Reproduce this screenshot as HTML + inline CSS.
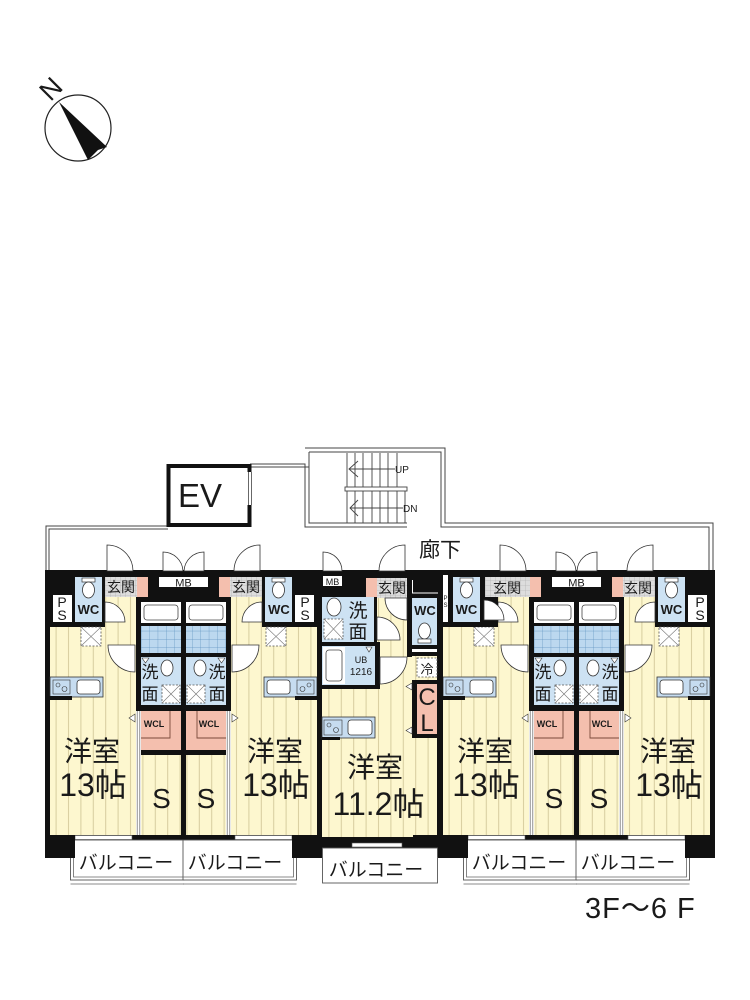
<!DOCTYPE html>
<html><head><meta charset="utf-8"><style>
html,body{margin:0;padding:0;background:#fff;}
svg{display:block;}
text{font-family:"Liberation Sans","Noto Sans CJK JP",sans-serif;fill:#1a1a1a;}
</style></head><body>
<svg width="750" height="1000" viewBox="0 0 750 1000" xmlns="http://www.w3.org/2000/svg">
<defs>
<pattern id="st" x="0" y="0" width="12.4" height="20" patternUnits="userSpaceOnUse">
<rect width="12.4" height="20" fill="#fdf7cf"/><rect x="6" width="1" height="20" fill="#d6cc9e"/></pattern>
<pattern id="gr" x="0" y="0" width="5" height="5" patternUnits="userSpaceOnUse">
<rect width="5" height="5" fill="#dddddd"/><path d="M0 0H5M0 0V5" stroke="#a8a8a8" stroke-width="0.6"/></pattern>
<pattern id="tile" x="0" y="0" width="8.3" height="8.3" patternUnits="userSpaceOnUse">
<rect width="8.3" height="8.3" fill="#bcd8ef"/><path d="M0 0H8.3M0 0V8.3" stroke="#5f93c0" stroke-width="0.7"/></pattern>

<g id="uA">
 <rect x="50" y="622" width="86" height="213" fill="url(#st)"/>
 <rect x="105" y="597" width="31" height="30" fill="url(#st)"/>
 <rect x="45" y="570" width="60" height="57" fill="#111"/>
 <rect x="45" y="570" width="5" height="288" fill="#111"/>
 <rect x="45" y="570" width="139" height="7" fill="#111"/>
 <rect x="53" y="595" width="19" height="27" fill="#fff"/>
 <rect x="75" y="577" width="27" height="45" fill="#cde2f3"/>
 <rect x="82" y="578" width="13" height="4" fill="#fff" stroke="#333" stroke-width="0.7"/>
 <ellipse cx="88.5" cy="590" rx="6" ry="8" fill="#fff" stroke="#333" stroke-width="0.8"/>
 <rect x="105" y="577" width="32" height="20" fill="url(#gr)"/>
 <rect x="137" y="577" width="11" height="20" fill="#f4bfae"/>
 <rect x="148" y="570" width="36" height="32" fill="#111"/>
 <rect x="136" y="597" width="48" height="243" fill="#111"/>
 <rect x="159" y="577" width="25" height="10" fill="#fff"/>
 <!-- bath -->
 <rect x="141" y="602" width="40" height="21" fill="#fff"/>
 <rect x="144" y="605" width="34" height="15" rx="3" fill="#fff" stroke="#444" stroke-width="0.8"/>
 <rect x="141" y="626" width="40" height="27" fill="url(#tile)"/>
 <!-- wash -->
 <rect x="141" y="657" width="40" height="48" fill="#cde2f3"/>
 <ellipse cx="167" cy="668" rx="6" ry="8" fill="#fff" stroke="#333" stroke-width="0.8"/>
 <rect x="162" y="685" width="18" height="18" fill="#fff" stroke="#555" stroke-width="0.8" stroke-dasharray="2 1.5"/>
 <path d="M162 685L180 703M180 685L162 703" stroke="#777" stroke-width="0.6"/>
 <polygon points="142,658 149,658 145.5,663" fill="#fff" stroke="#333" stroke-width="0.6"/>
 <!-- WCL -->
 <rect x="141" y="711" width="40" height="39" fill="#f4bfae"/>
 <path d="M141 738H170V711" stroke="#7a4a3a" stroke-width="0.9" fill="none"/>
 <!-- S -->
 <rect x="141" y="755" width="40" height="80" fill="url(#st)"/>
 <rect x="136" y="711" width="5" height="124" fill="#fff"/>
 <path d="M137.2 711V835M139.8 711V835" stroke="#666" stroke-width="0.7"/>
 <polygon points="135,714 135,722 129,718" fill="#fff" stroke="#333" stroke-width="0.6"/>
 <!-- counter -->
 <rect x="50" y="677" width="53" height="20" fill="#c6dcf0" stroke="#333" stroke-width="0.8"/>
 <rect x="53" y="680" width="17" height="14" fill="#c6dcf0" stroke="#333" stroke-width="0.6"/>
 <circle cx="58" cy="685" r="2" fill="none" stroke="#333" stroke-width="0.6"/>
 <circle cx="64.5" cy="689" r="2.5" fill="none" stroke="#333" stroke-width="0.6"/>
 <rect x="77" y="680" width="23" height="14" rx="3" fill="#fff" stroke="#333" stroke-width="0.8"/>
 <rect x="45" y="696" width="27" height="4" fill="#111"/>
 <!-- X box -->
 <rect x="81" y="627" width="20" height="19" fill="#fff" stroke="#555" stroke-width="0.8" stroke-dasharray="2 1.5"/>
 <path d="M81 627L101 646M101 627L81 646" stroke="#777" stroke-width="0.6"/>
 <!-- doors -->
 <path d="M105 602A20 20 0 0 1 125 622L105 622Z" fill="#fff" stroke="#333" stroke-width="0.8"/>
 <path d="M135 645L108 645A27 27 0 0 0 135 672Z" fill="#fff" stroke="#333" stroke-width="0.8"/>
 <path d="M107 571L107 545A26 26 0 0 1 133 571Z" fill="#fff" stroke="#333" stroke-width="0.8"/>
 <path d="M163 571L163 552A20 20 0 0 1 183 571Z" fill="#fff" stroke="#333" stroke-width="0.8"/>
 <!-- bottom -->
 <rect x="45" y="835" width="139" height="5" fill="#111"/>
 <rect x="75" y="835.5" width="57" height="4" fill="#fff" stroke="#555" stroke-width="0.6"/>
 <rect x="70.5" y="840" width="113.5" height="40" fill="#fff" stroke="#555" stroke-width="0.9"/>
 <path d="M73.5 858V877H184M70.5 884H184" stroke="#666" stroke-width="0.8" fill="none"/>
 <rect x="45" y="835" width="30" height="23" fill="#111"/>
</g>
</defs>

<!-- north arrow -->
<circle cx="78" cy="128" r="33" fill="none" stroke="#222" stroke-width="1.2"/>
<polygon points="59,102 107,147 98,150 88,160" fill="#111"/>
<text x="51" y="98" font-size="27" text-anchor="middle" transform="rotate(-45 51 89)">N</text>

<!-- corridor outline -->
<g fill="none" stroke="#444" stroke-width="1">
<path d="M46 570V526H168"/>
<path d="M49 570V529H168"/>
<path d="M250 464H305V527H407"/>
<path d="M250 467H309M309 452V523H407"/>
<path d="M305 448H445V523H713V570"/>
<path d="M309 452H441V527H709V570"/>
</g>
<!-- EV -->
<rect x="168.5" y="466" width="81" height="59" fill="#fff" stroke="#111" stroke-width="4"/>
<rect x="247" y="472" width="6" height="33" fill="#fff"/>
<path d="M248.5 472V505M251.5 472V505" stroke="#444" stroke-width="0.8"/>
<text x="200" y="507" font-size="33" text-anchor="middle">EV</text>
<!-- stairs -->
<g stroke="#444" stroke-width="0.9" fill="none">
<path d="M347 453V523M355 453V487M363 453V487M372 453V487M380 453V487M388 453V487M397 453V487"/>
<path d="M355 491V523M363 491V523M372 491V523M380 491V523M388 491V523M397 491V523M405 491V523"/>
<rect x="345" y="487" width="62" height="4" fill="#fff"/>
<path d="M349 469H395M350 508H403"/>
<path d="M358 461L349 469L358 477M358 500L350 508L358 516"/>
</g>
<text x="395" y="473" font-size="10">UP</text>
<text x="403" y="512" font-size="10">DN</text>
<text x="440" y="557" font-size="21" text-anchor="middle">廊下</text>

<!-- units -->
<use href="#uA"/>
<use href="#uA" transform="translate(367,0) scale(-1,1)"/>
<use href="#uA" transform="translate(393,0)"/>
<use href="#uA" transform="translate(760,0) scale(-1,1)"/>

<!-- corrections unit C -->
<rect x="443" y="570" width="55" height="57" fill="#111"/>
<rect x="443" y="575" width="5" height="47" fill="#fff"/>
<rect x="453" y="577" width="27" height="45" fill="#cde2f3"/>
<rect x="460" y="578" width="13" height="4" fill="#fff" stroke="#333" stroke-width="0.7"/>
<ellipse cx="466.5" cy="590" rx="6" ry="8" fill="#fff" stroke="#333" stroke-width="0.8"/>
<rect x="485" y="577" width="45" height="20" fill="url(#gr)"/>
<path d="M484 600A20 20 0 0 1 504 620L484 620Z" fill="#fff" stroke="#333" stroke-width="0.8"/>

<!-- center unit -->
<rect x="322" y="597" width="115" height="240" fill="url(#st)"/>
<rect x="317" y="570" width="126" height="27" fill="#111"/>
<rect x="317" y="570" width="5" height="278" fill="#111"/>
<rect x="437" y="570" width="6" height="278" fill="#111"/>
<rect x="323" y="576" width="19" height="10" fill="#fff"/>
<rect x="366" y="578" width="11" height="20" fill="#f4bfae"/>
<rect x="377" y="578" width="30" height="20" fill="url(#gr)"/>
<rect x="322" y="597" width="53" height="45" fill="#cde2f3"/>
<ellipse cx="334" cy="607" rx="7" ry="9" fill="#fff" stroke="#333" stroke-width="0.8"/>
<rect x="324" y="619" width="19" height="20" fill="#fff" stroke="#555" stroke-width="0.8" stroke-dasharray="2 1.5"/>
<path d="M324 619L343 639M343 619L324 639" stroke="#777" stroke-width="0.6"/>
<rect x="374" y="597" width="3" height="45" fill="#111"/>
<rect x="322" y="642" width="58" height="4" fill="#111"/>
<rect x="322" y="646" width="53" height="39" fill="#cde2f3"/>
<rect x="323" y="647" width="22" height="37" fill="#fff"/>
<rect x="326" y="650" width="16" height="31" rx="3" fill="#fff" stroke="#444" stroke-width="0.8"/>
<polygon points="366,647 372,647 369,652" fill="#fff" stroke="#333" stroke-width="0.6"/>
<rect x="375" y="642" width="5" height="47" fill="#111"/>
<rect x="322" y="685" width="58" height="4" fill="#111"/>
<rect x="407" y="570" width="36" height="28" fill="#111"/>
<path d="M412.5 580V593H438" stroke="#fff" stroke-width="1" fill="none"/>
<rect x="412" y="598" width="25" height="47" fill="#cde2f3"/>
<ellipse cx="424.5" cy="631" rx="6" ry="8" fill="#fff" stroke="#333" stroke-width="0.8"/>
<rect x="418" y="639" width="13" height="4" fill="#fff" stroke="#333" stroke-width="0.7"/>
<rect x="407" y="597" width="5" height="60" fill="#111"/>
<rect x="407" y="645" width="36" height="11" fill="#111"/>
<rect x="412" y="649" width="25" height="3" fill="#fff"/>
<rect x="417" y="658" width="20" height="19" fill="#fff" stroke="#555" stroke-width="0.8" stroke-dasharray="2 1.5"/>
<rect x="412" y="680" width="25" height="58" fill="#111"/>
<rect x="417" y="684" width="20" height="50" fill="#f4bfae"/>
<polygon points="412,683 412,690 406,686.5" fill="#fff" stroke="#333" stroke-width="0.6"/>
<polygon points="412,727 412,734 406,730.5" fill="#fff" stroke="#333" stroke-width="0.6"/>
<rect x="322" y="717" width="53" height="21" fill="#c6dcf0" stroke="#333" stroke-width="0.8"/>
<rect x="324" y="720" width="18" height="15" fill="#c6dcf0" stroke="#333" stroke-width="0.6"/>
<circle cx="329" cy="725" r="2" fill="none" stroke="#333" stroke-width="0.6"/>
<circle cx="336" cy="730" r="2.5" fill="none" stroke="#333" stroke-width="0.6"/>
<rect x="348" y="720" width="24" height="15" rx="3" fill="#fff" stroke="#333" stroke-width="0.8"/>
<rect x="322" y="737" width="18" height="3" fill="#111"/>
<path d="M405 571L405 545A26 26 0 0 0 379 571Z" fill="#fff" stroke="#333" stroke-width="0.8"/>
<path d="M323 571L323 552A19 19 0 0 1 342 571Z" fill="#fff" stroke="#333" stroke-width="0.8"/>
<path d="M377 640L377 617A23 23 0 0 1 400 640Z" fill="#fff" stroke="#333" stroke-width="0.8"/>
<path d="M407 598L385 598A22 22 0 0 0 407 620Z" fill="#fff" stroke="#333" stroke-width="0.8"/>
<path d="M380 657L407 657A27 27 0 0 1 380 684Z" fill="#fff" stroke="#333" stroke-width="0.8"/>
<rect x="317" y="837" width="126" height="11" fill="#111"/>
<rect x="352" y="843" width="50" height="4" fill="#fff" stroke="#555" stroke-width="0.6"/>
<rect x="413" y="835" width="30" height="22" fill="#111"/>
<rect x="322.5" y="848" width="115" height="35" fill="#fff" stroke="#555" stroke-width="0.9"/>

<!-- texts unit A -->
<g font-size="14">
<text x="62" y="607" text-anchor="middle">P</text><text x="62" y="620" text-anchor="middle">S</text>
<text x="305" y="607" text-anchor="middle">P</text><text x="305" y="620" text-anchor="middle">S</text>
<text x="700" y="607" text-anchor="middle">P</text><text x="700" y="620" text-anchor="middle">S</text>
<text x="121" y="592" text-anchor="middle">玄関</text>
<text x="246" y="592" text-anchor="middle">玄関</text>
<text x="392" y="593" text-anchor="middle">玄関</text>
<text x="507" y="593" text-anchor="middle">玄関</text>
<text x="638" y="593" text-anchor="middle">玄関</text>
</g>
<g font-size="13" font-weight="bold" text-anchor="middle">
<text x="88.5" y="614">WC</text>
<text x="279" y="614">WC</text>
<text x="425" y="615">WC</text>
<text x="466.5" y="614">WC</text>
<text x="671.5" y="614">WC</text>
</g>
<g font-size="11" text-anchor="middle">
<text x="183.5" y="586.5">MB</text>
<text x="576.5" y="586.5">MB</text>
<text x="332.5" y="585" font-size="9">MB</text>
</g>
<g font-size="6" text-anchor="middle">
<text x="445.5" y="600">P</text><text x="445.5" y="607">S</text>
</g>
<g font-size="17" text-anchor="middle">
<text x="150" y="678">洗</text><text x="150" y="700">面</text>
<text x="217" y="678">洗</text><text x="217" y="700">面</text>
<text x="543" y="678">洗</text><text x="543" y="700">面</text>
<text x="610" y="678">洗</text><text x="610" y="700">面</text>
<text x="358" y="617" font-size="19">洗</text><text x="358" y="638" font-size="19">面</text>
</g>
<g font-size="9" font-weight="bold" text-anchor="middle">
<text x="154" y="727">WCL</text>
<text x="209" y="727">WCL</text>
<text x="547" y="727">WCL</text>
<text x="602" y="727">WCL</text>
</g>
<g font-size="28" text-anchor="middle">
<text x="161.5" y="808">S</text>
<text x="206" y="808">S</text>
<text x="554" y="808">S</text>
<text x="599" y="808">S</text>
<text x="92" y="761">洋室</text>
<text x="275" y="761">洋室</text>
<text x="375" y="777">洋室</text>
<text x="485" y="761">洋室</text>
<text x="668" y="761">洋室</text>
</g>
<g font-size="32" text-anchor="middle">
<text x="93" y="796">13帖</text>
<text x="276" y="796">13帖</text>
<text x="378.5" y="815">11.2帖</text>
<text x="486" y="796">13帖</text>
<text x="669" y="796">13帖</text>
</g>
<g font-size="19" text-anchor="middle">
<text x="126" y="869">バルコニー</text>
<text x="235" y="869">バルコニー</text>
<text x="376" y="876">バルコニー</text>
<text x="519" y="869">バルコニー</text>
<text x="628" y="869">バルコニー</text>
</g>
<text x="361" y="663" font-size="9" text-anchor="middle">UB</text>
<text x="361" y="675" font-size="10" text-anchor="middle">1216</text>
<text x="427" y="674" font-size="13" text-anchor="middle">冷</text>
<text x="427" y="705" font-size="24" text-anchor="middle">C</text>
<text x="427" y="731" font-size="24" text-anchor="middle">L</text>
<text x="585" y="918" font-size="29" letter-spacing="1">3F〜6 F</text>
</svg>
</body></html>
